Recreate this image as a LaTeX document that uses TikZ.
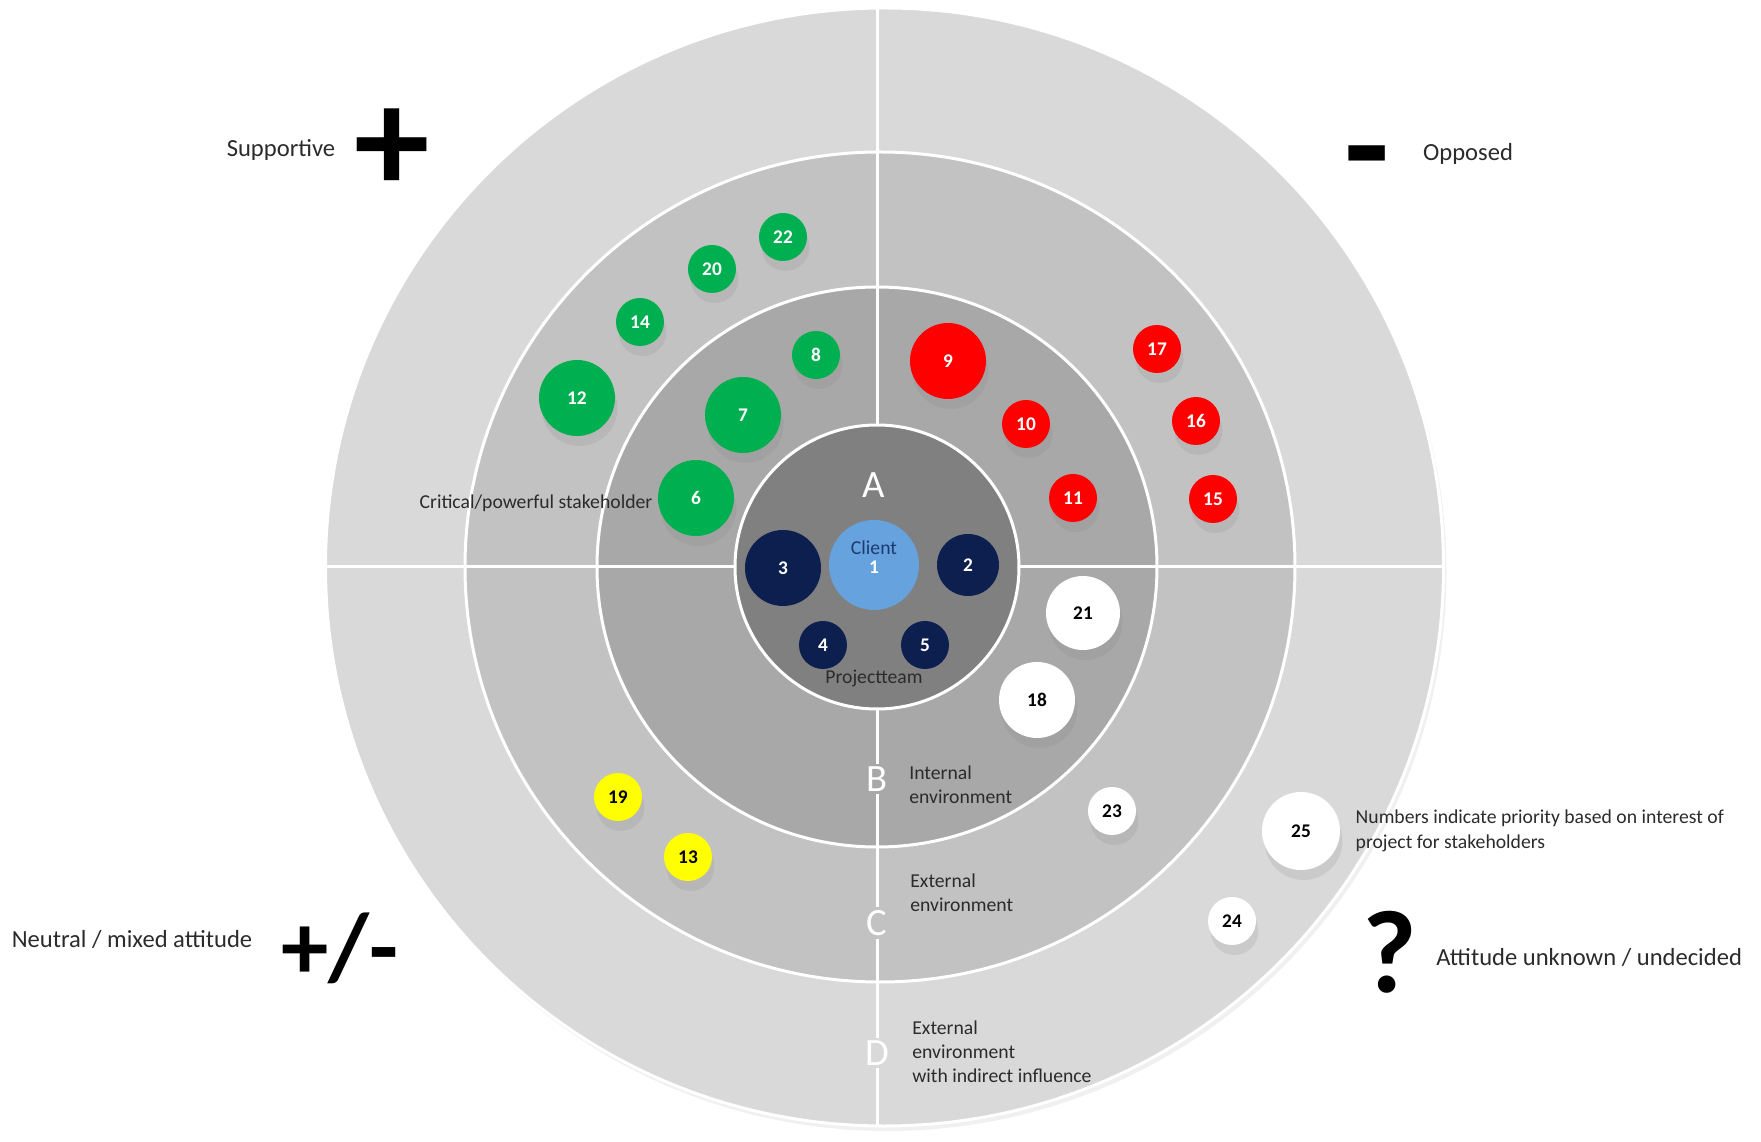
\documentclass[tikz,border=0pt]{standalone}
\usepackage{fontspec}
\setmainfont{Carlito}
\usepackage{tikz}
\usetikzlibrary{shadows, positioning}

\definecolor{ringD}{HTML}{D9D9D9}
\definecolor{ringC}{HTML}{C2C2C2}
\definecolor{ringB}{HTML}{A8A8A8}
\definecolor{ringA}{HTML}{808080}
\definecolor{supgreen}{HTML}{00B050}
\definecolor{oppred}{HTML}{FF0000}
\definecolor{neutyellow}{HTML}{FFFF00}
\definecolor{teamnavy}{HTML}{0D1F4E}
\definecolor{clientblue}{HTML}{66A3DE}
\definecolor{clienttext}{HTML}{1F3A70}
\definecolor{labelgray}{HTML}{2B2B2B}

\tikzset{
    stake/.style={circle, inner sep=0pt, font=\fontsize{11}{13}\selectfont\bfseries,
        drop shadow={shadow xshift=0.05cm, shadow yshift=-0.2cm, opacity=0.16}},
    bigdot/.style={minimum size=1.52cm},
    smalldot/.style={minimum size=0.96cm},
    pro/.style={stake, fill=supgreen, text=white},
    contra/.style={stake, fill=oppred, text=white},
    neutral/.style={stake, fill=neutyellow, text=black},
    undecided/.style={stake, fill=white, text=black},
    team/.style={stake, fill=teamnavy, text=white},
    lbl/.style={font=\fontsize{11.2}{13.6}\selectfont, text=labelgray, align=left, inner sep=0pt},
    biglbl/.style={font=\fontsize{14}{16}\selectfont, text=labelgray, inner sep=0pt},
    ringletter/.style={font=\fontsize{22}{24}\selectfont, text=white, inner sep=0.06cm},
    signlbl/.style={text=black, inner sep=0pt},
    ringline/.style={draw=white, line width=0.06cm}
}

\begin{document}
\begin{tikzpicture}
\useasboundingbox (-17.54,-11.50) rectangle (17.68,11.34);
%prstenovi
    \fill[ringD, drop shadow={opacity=0.12, shadow xshift=0.06cm, shadow yshift=-0.1cm}] (0.15,0) circle (11.18);
    \fill[ringC] (0.06,0) circle (8.3);
    \fill[ringB] (0,0) circle (5.6);

%kvadranti
    \draw[ringline] (0,11.18) -- (0,-11.18);
    \draw[ringline] (-11.03,0) -- (11.33,0);
    \draw[ringline] (0.15,0) circle (11.18);
    \draw[ringline] (0.06,0) circle (8.3);
    \draw[ringline] (0,0) circle (5.6);
    \filldraw[fill=ringA, draw=white, line width=0.06cm] (0,0) circle (2.84);

%slova
    \node[ringletter] (lA) at (-0.06,1.64) {A};
    \node[ringletter, fill=ringB] (lB) at (0,-4.24) {B};
    \node[ringletter, fill=ringC] (lC) at (0,-7.12) {C};
    \node[ringletter, fill=ringD] (lD) at (0,-9.72) {D};
    \node[lbl, anchor=west] (tB) at (0.64,-4.36) {Internal\\environment};
    \node[lbl, anchor=west] (tC) at (0.66,-6.52) {External\\environment};
    \node[lbl, anchor=west] (tD) at (0.70,-9.70) {External\\environment\\with indirect influence};

%jezgra
    \node[stake, fill=clientblue, minimum size=1.8cm] (s1) at (-0.06,0.04) {};
    \node[lbl, text=clienttext, inner sep=0pt] (cl) at ([yshift=0.34cm]s1.center) {Client};
    \node[inner sep=0pt, text=white, font=\fontsize{11}{13}\selectfont\bfseries] (cl1) at ([yshift=-0.04cm]s1.center) {1};
    \node[team, minimum size=1.52cm] (s3) at (-1.88,-0.02) {3};
    \node[team, minimum size=1.24cm] (s2) at (1.82,0.04) {2};
    \node[team, smalldot] (s4) at (-1.08,-1.56) {4};
    \node[team, smalldot] (s5) at (0.96,-1.56) {5};
    \node[lbl] (pteam) at (-0.06,-2.22) {Projectteam};

%podrska
    \node[pro, smalldot] (s22) at (-1.88,6.60) {22};
    \node[pro, smalldot] (s20) at (-3.30,5.96) {20};
    \node[pro, smalldot] (s14) at (-4.74,4.90) {14};
    \node[pro, smalldot] (s8) at (-1.22,4.24) {8};
    \node[pro, bigdot] (s12) at (-6.00,3.38) {12};
    \node[pro, bigdot] (s7) at (-2.68,3.04) {7};
    \node[pro, bigdot] (s6) at (-3.62,1.38) {6};
    \node[lbl, left=0.1cm of s6, yshift=-0.1cm] (crit) {Critical/powerful stakeholder};

%protiv
    \node[contra, bigdot] (s9) at (1.42,4.12) {9};
    \node[contra, smalldot] (s17) at (5.60,4.36) {17};
    \node[contra, smalldot] (s10) at (2.98,2.86) {10};
    \node[contra, smalldot] (s16) at (6.38,2.92) {16};
    \node[contra, smalldot] (s11) at (3.92,1.38) {11};
    \node[contra, smalldot] (s15) at (6.72,1.36) {15};

%neutralni
    \node[neutral, smalldot] (s19) at (-5.18,-4.60) {19};
    \node[neutral, smalldot] (s13) at (-3.78,-5.80) {13};

%nepoznato
    \node[undecided, minimum size=1.48cm] (s21) at (4.12,-0.92) {21};
    \node[undecided, bigdot] (s18) at (3.20,-2.66) {18};
    \node[undecided, smalldot] (s23) at (4.70,-4.88) {23};
    \node[undecided, minimum size=1.56cm] (s25) at (8.48,-5.28) {25};
    \node[undecided, smalldot] (s24) at (7.10,-7.08) {24};
    \node[lbl, right=0.3cm of s25, font=\fontsize{11.2}{14.2}\selectfont] (prio) {Numbers indicate priority based on interest of\\project for stakeholders};

%legenda
    \node[biglbl] (sup) at (-11.92,8.34) {Supportive};
    \node[signlbl, font=\fontsize{86}{86}\selectfont\bfseries] (plus) at (-9.70,8.32) {+};
    \node[signlbl, font=\fontsize{84}{84}\selectfont\bfseries] (minus) at (9.80,7.92) {-};
    \node[biglbl] (opp) at (11.82,8.26) {Opposed};
    \node[biglbl] (neut) at (-14.90,-7.44) {Neutral / mixed attitude};
    \node[signlbl, font=\fontsize{54}{54}\selectfont\bfseries] (pm) at (-10.74,-7.62) {+/-};
    \node[signlbl, font=\fontsize{67}{67}\selectfont\bfseries] (quest) at (10.26,-7.70) {?};
    \node[biglbl, anchor=west] (unk) at (11.18,-7.80) {Attitude unknown / undecided};
\end{tikzpicture}
\end{document}
